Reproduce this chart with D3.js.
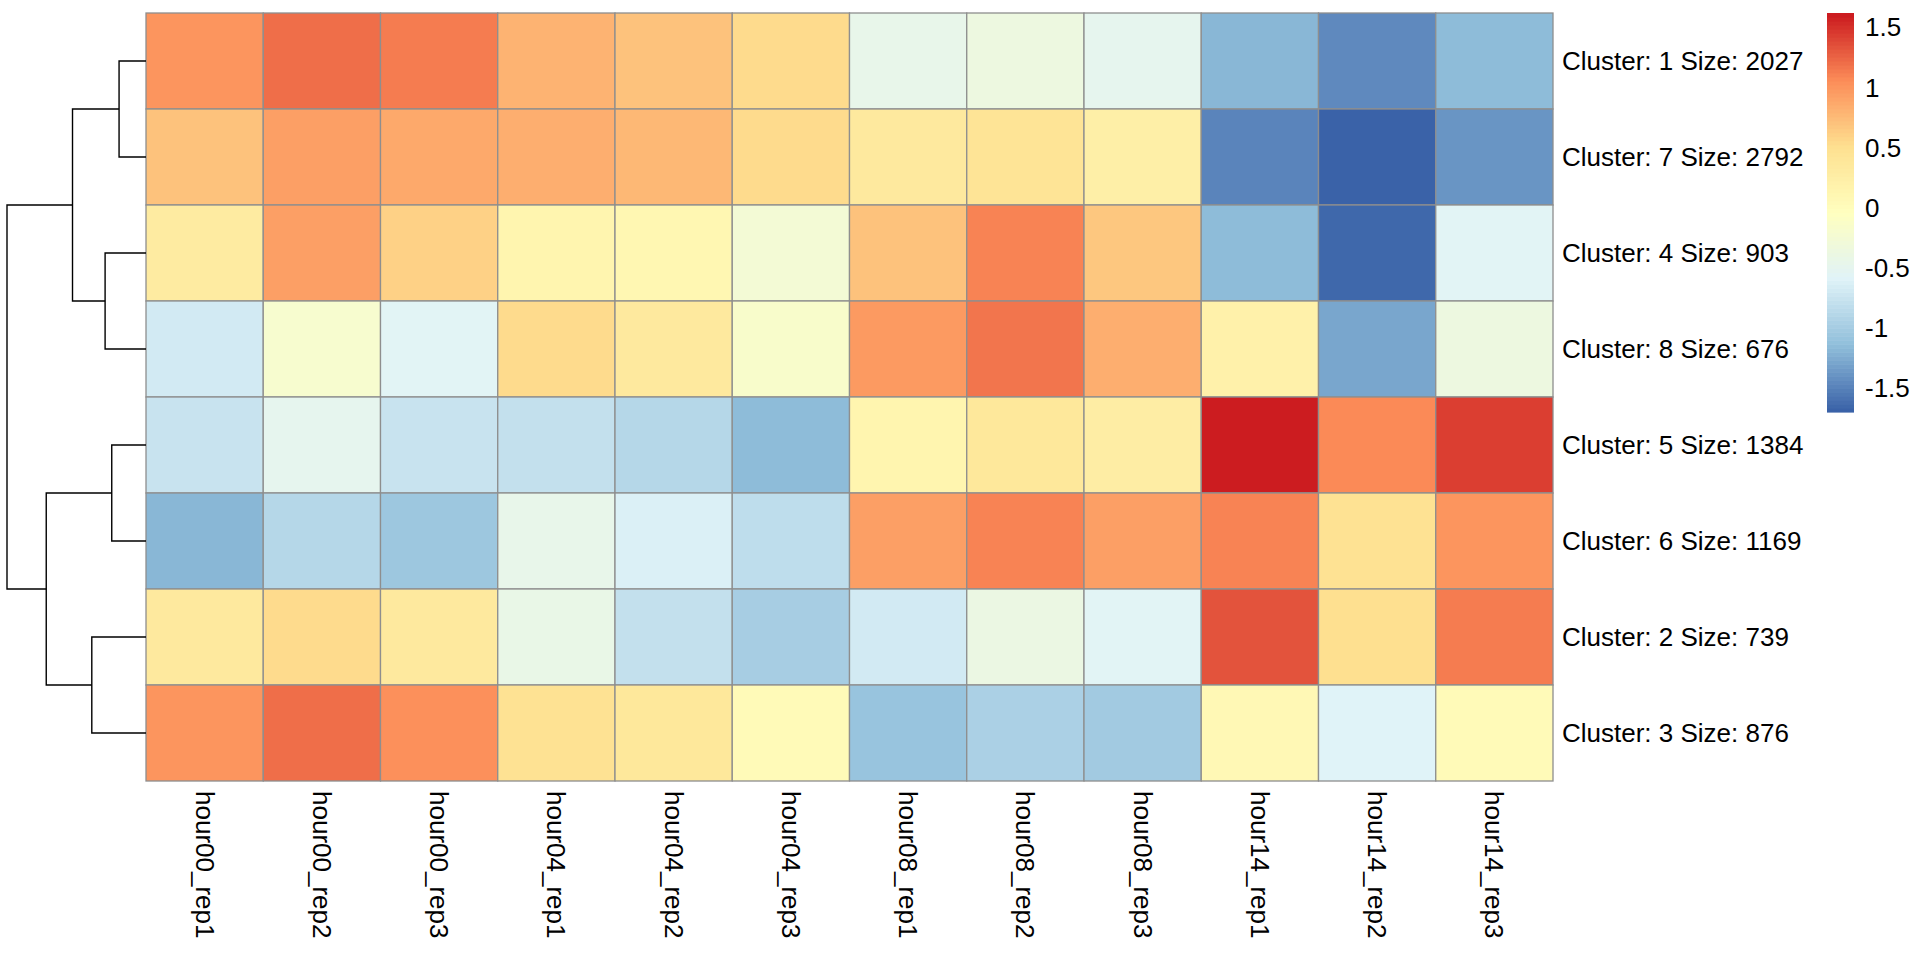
<!DOCTYPE html>
<html>
<head>
<meta charset="utf-8">
<script src="https://cdn.jsdelivr.net/npm/d3@7"></script>
<style>
  html, body { margin: 0; padding: 0; background: #ffffff; }
  svg { display: block; }
  text { font-family: "Liberation Sans", Arial, Helvetica, sans-serif; fill: #000; }
</style>
</head>
<body>
<svg id="chart" width="1920" height="960"></svg>
<script>
// ---- data ----
const columns = ["hour00_rep1","hour00_rep2","hour00_rep3","hour04_rep1","hour04_rep2","hour04_rep3",
                 "hour08_rep1","hour08_rep2","hour08_rep3","hour14_rep1","hour14_rep2","hour14_rep3"];
const rowLabels = ["Cluster: 1 Size: 2027","Cluster: 7 Size: 2792","Cluster: 4 Size: 903","Cluster: 8 Size: 676",
                   "Cluster: 5 Size: 1384","Cluster: 6 Size: 1169","Cluster: 2 Size: 739","Cluster: 3 Size: 876"];
const rowIds = ["1","7","4","8","5","6","2","3"];
const cluster1 = [1.00, 1.22, 1.13, 0.80, 0.70, 0.55, -0.45, -0.35, -0.50, -1.17, -1.45, -1.16];
const cluster7 = [0.72, 0.95, 0.86, 0.84, 0.78, 0.55, 0.35, 0.45, 0.25, -1.50, -1.70, -1.40];
const cluster4 = [0.30, 0.93, 0.60, 0.15, 0.10, -0.25, 0.72, 1.10, 0.68, -1.14, -1.66, -0.55];
const cluster8 = [-0.70, -0.20, -0.55, 0.55, 0.35, -0.15, 0.97, 1.17, 0.85, 0.20, -1.28, -0.35];
const cluster5 = [-0.75, -0.50, -0.74, -0.80, -0.90, -1.14, 0.15, 0.38, 0.27, 1.62, 1.08, 1.44];
const cluster6 = [-1.17, -0.90, -1.05, -0.45, -0.62, -0.83, 0.93, 1.10, 0.95, 1.10, 0.47, 1.02];
const cluster2 = [0.35, 0.55, 0.35, -0.43, -0.78, -0.98, -0.70, -0.38, -0.55, 1.33, 0.50, 1.15];
const cluster3 = [1.02, 1.22, 1.05, 0.47, 0.38, 0.05, -1.08, -0.95, -1.02, 0.07, -0.60, 0.05];
const matrix = [cluster1, cluster7, cluster4, cluster8, cluster5, cluster6, cluster2, cluster3];
// row dendrogram merges (heights in distance units)
const merges = [
  {id:"m1", a:"1",  b:"7",  h:0.81},
  {id:"m2", a:"4",  b:"8",  h:1.23},
  {id:"m3", a:"m1", b:"m2", h:2.21},
  {id:"m4", a:"5",  b:"6",  h:1.03},
  {id:"m5", a:"2",  b:"3",  h:1.63},
  {id:"m6", a:"m4", b:"m5", h:3.00},
  {id:"m7", a:"m3", b:"m6", h:4.18}
];
const legendTicks = [1.5, 1, 0.5, 0, -0.5, -1, -1.5];
const paletteColors = ["#3A62A8","#91BFDB","#E0F3F8","#FFFFBF","#FEE090","#FC8D59","#CC1C20"];

// ---- layout ----
const svg = d3.select("#chart");
const hmLeft = 146, hmRight = 1553, hmTop = 13, hmBottom = 781;
const fontSize = 26;

const x = d3.scaleBand().domain(columns).range([hmLeft, hmRight]);
const y = d3.scaleBand().domain(rowIds).range([hmTop, hmBottom]);

const all = matrix.flat();
const vmin = d3.min(all), vmax = d3.max(all);
const stops = paletteColors.map((c, i) => vmin + (vmax - vmin) * i / (paletteColors.length - 1));
const ramp = d3.scaleLinear().domain(stops).range(paletteColors).interpolate(d3.interpolateRgb).clamp(true);
const nCol = 100;
const breaks = d3.range(nCol + 1).map(i => vmin + (vmax - vmin) * i / nCol);
const palette = d3.range(nCol).map(i => ramp(vmin + (vmax - vmin) * i / (nCol - 1)));
const colorOf = v => {
  let idx = Math.floor((v - vmin) / (vmax - vmin) * nCol);
  idx = Math.max(0, Math.min(nCol - 1, idx));
  return palette[idx];
};

// ---- cells ----
const cells = [];
matrix.forEach((row, ri) => row.forEach((v, ci) => cells.push({r: rowIds[ri], c: columns[ci], v})));
svg.append("g").selectAll("rect").data(cells).join("rect")
  .attr("x", d => x(d.c))
  .attr("y", d => y(d.r))
  .attr("width", x.bandwidth())
  .attr("height", y.bandwidth())
  .attr("fill", d => colorOf(d.v))
  .attr("stroke", "#8E8E8E")
  .attr("stroke-width", 1.3);

// ---- row labels ----
svg.append("g").selectAll("text").data(rowIds).join("text")
  .attr("x", hmRight + 9)
  .attr("y", d => y(d) + y.bandwidth() / 2)
  .attr("dominant-baseline", "central")
  .attr("font-size", fontSize)
  .text((d, i) => rowLabels[i]);

// ---- column labels ----
svg.append("g").selectAll("text").data(columns).join("text")
  .attr("transform", d => `translate(${x(d) + x.bandwidth() / 2},${hmBottom + 10}) rotate(90)`)
  .attr("dominant-baseline", "central")
  .attr("text-anchor", "start")
  .attr("font-size", fontSize)
  .text(d => d);

// ---- dendrogram ----
const hScale = d3.scaleLinear().domain([0, d3.max(merges, m => m.h)]).range([hmLeft, 7]);
const nodes = {};
rowIds.forEach(id => nodes[id] = {h: 0, y: y(id) + y.bandwidth() / 2});
const dg = svg.append("g").attr("fill", "none").attr("stroke", "#000").attr("stroke-width", 1.4);
merges.forEach(m => {
  const A = nodes[m.a], B = nodes[m.b];
  const xm = hScale(m.h);
  dg.append("path")
    .attr("d", `M${hScale(A.h)},${A.y}H${xm}V${B.y}H${hScale(B.h)}`);
  nodes[m.id] = {h: m.h, y: (A.y + B.y) / 2};
});

// ---- legend ----
const legTop = 13, legBottom = 412, legLeft = 1827, legW = 27;
const ly = d3.scaleLinear().domain([vmin, vmax]).range([legBottom, legTop]);
const lg = svg.append("g");
lg.selectAll("rect").data(palette).join("rect")
  .attr("x", legLeft)
  .attr("y", (d, i) => ly(breaks[i + 1]))
  .attr("width", legW)
  .attr("height", (d, i) => ly(breaks[i]) - ly(breaks[i + 1]) + 0.6)
  .attr("fill", d => d);
lg.selectAll("text").data(legendTicks).join("text")
  .attr("x", legLeft + legW + 11)
  .attr("y", d => ly(d))
  .attr("dominant-baseline", "central")
  .attr("font-size", fontSize)
  .text(d => String(d));
</script>
</body>
</html>
